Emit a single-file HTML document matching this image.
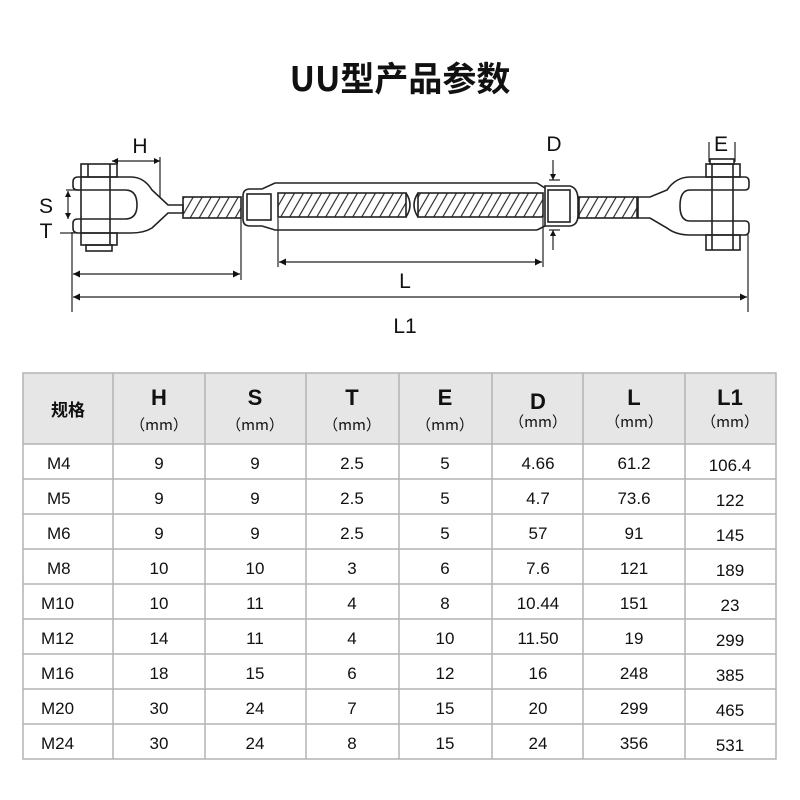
<!DOCTYPE html>
<html><head><meta charset="utf-8"><style>
html,body{margin:0;padding:0;background:#fff;width:800px;height:800px;overflow:hidden}
svg{display:block}
</style></head><body>
<svg width="800" height="800" viewBox="0 0 800 800" xmlns="http://www.w3.org/2000/svg" font-family="Liberation Sans, Noto Sans CJK SC, sans-serif">
<defs>
<pattern id="h" width="9" height="30" patternUnits="userSpaceOnUse" patternTransform="skewX(-30)">
<line x1="1" y1="0" x2="1" y2="30" stroke="#222" stroke-width="1.3"/>
</pattern>
<marker id="a" viewBox="0 0 10 10" refX="10" refY="5" markerWidth="10" markerHeight="6" orient="auto-start-reverse" markerUnits="userSpaceOnUse"><path d="M0,0L10,5L0,10z" fill="#111"/></marker>
<marker id="b" viewBox="0 0 10 10" refX="10" refY="5" markerWidth="16" markerHeight="7" orient="auto-start-reverse" markerUnits="userSpaceOnUse"><path d="M0,0L10,5L0,10z" fill="#111"/></marker>
</defs>
<text x="400" y="91" text-anchor="middle" font-size="34" font-weight="bold" fill="#111" font-family="Noto Sans CJK SC, sans-serif">UU型产品参数</text>

<g fill="none" stroke="#222" stroke-width="1.6">
<path d="M78,177 H131 Q144,177 152,190 L168,205 H183 V213 H168 L152,228 Q144,233 131,233 H78 Q73,233 73,228 V223 Q73,219 78,219 H125 Q137,219 137,205 Q137,190 125,190 H78 Q73,190 73,186 V182 Q73,177 78,177 Z"/>
<rect x="81" y="164" width="36" height="13"/>
<line x1="88" y1="164" x2="88" y2="177"/>
<line x1="81" y1="177" x2="81" y2="233"/>
<line x1="110" y1="164" x2="110" y2="244"/>
<rect x="81" y="233" width="36" height="12"/>
<rect x="86" y="245" width="26" height="6"/>
<rect x="183" y="197" width="58" height="21" fill="url(#h)"/>
<path d="M243,196 Q243,189 250,189 H262 L275,183 H537 L545,188 H545 M537,230 L545,226 M262,226 L275,230 H537"/>
<path d="M243,196 V219 Q243,226 250,226 H262"/>
<rect x="247" y="194" width="24" height="26"/>
<rect x="278" y="193" width="128" height="24" fill="url(#h)"/>
<rect x="418" y="193" width="125" height="24" fill="url(#h)"/>
<path d="M406,193 Q414,205 406,217 M418,193 Q410,205 418,217"/>
<path d="M545,186 H570 Q578,188 578,200 V215 Q578,225 570,226 H545 Z"/>
<rect x="548" y="190" width="22" height="32"/>
<rect x="579" y="197" width="58" height="21" fill="url(#h)"/>
<path d="M745,177 H690 Q676,177 667,190 L650,197 H638 V218 H650 L667,228 Q676,235 690,235 H745 Q749,235 749,230 V225 Q749,221 745,221 H690 Q680,221 680,206 Q680,190 690,190 H745 Q749,190 749,186 V182 Q749,177 745,177 Z"/>
<rect x="706" y="164" width="34" height="13"/>
<rect x="710" y="159" width="24" height="5"/>
<line x1="712" y1="164" x2="712" y2="250"/>
<line x1="733" y1="164" x2="733" y2="250"/>
<rect x="706" y="235" width="34" height="15"/>
</g>

<g stroke="#222" stroke-width="1.2" fill="none">
<line x1="72" y1="232" x2="72" y2="312"/>
<line x1="241" y1="218" x2="241" y2="280"/>
<line x1="278" y1="218" x2="278" y2="267"/>
<line x1="543" y1="218" x2="543" y2="267"/>
<line x1="748" y1="235" x2="748" y2="312"/>
<line x1="160" y1="157" x2="160" y2="197"/>
<line x1="66" y1="190" x2="80" y2="190"/>
<line x1="60" y1="233" x2="75" y2="233"/>
<line x1="549" y1="180" x2="560" y2="180"/>
<line x1="549" y1="230" x2="560" y2="230"/>
<line x1="709" y1="142" x2="709" y2="162"/>
<line x1="735" y1="142" x2="735" y2="162"/>
<line x1="112" y1="161" x2="160" y2="161" marker-start="url(#a)" marker-end="url(#a)"/>
<line x1="68" y1="191" x2="68" y2="219" marker-start="url(#a)" marker-end="url(#a)"/>
<line x1="553" y1="160" x2="553" y2="180" marker-end="url(#a)"/>
<line x1="553" y1="250" x2="553" y2="230" marker-end="url(#a)"/>
<line x1="73" y1="274" x2="240" y2="274" marker-start="url(#b)" marker-end="url(#b)"/>
<line x1="279" y1="262" x2="542" y2="262" marker-start="url(#b)" marker-end="url(#b)"/>
<line x1="73" y1="297" x2="747" y2="297" marker-start="url(#b)" marker-end="url(#b)"/>
</g>
<g font-size="21" fill="#111" text-anchor="middle">
<text x="140" y="153">H</text>
<text x="46" y="213">S</text>
<text x="46" y="238">T</text>
<text x="405" y="288">L</text>
<text x="405" y="333">L1</text>
<text x="554" y="151">D</text>
<text x="721" y="151">E</text>
</g>

<rect x="23" y="373" width="753" height="71" fill="#e6e6e6"/>
<g stroke="#b3b3b3" stroke-width="1.5" fill="none">
<rect x="23" y="373" width="753" height="386"/>
<line x1="113" y1="373" x2="113" y2="759"/><line x1="205" y1="373" x2="205" y2="759"/>
<line x1="306" y1="373" x2="306" y2="759"/><line x1="399" y1="373" x2="399" y2="759"/>
<line x1="492" y1="373" x2="492" y2="759"/><line x1="583" y1="373" x2="583" y2="759"/>
<line x1="685" y1="373" x2="685" y2="759"/>
<line x1="23" y1="444" x2="776" y2="444"/><line x1="23" y1="479" x2="776" y2="479"/>
<line x1="23" y1="514" x2="776" y2="514"/><line x1="23" y1="549" x2="776" y2="549"/>
<line x1="23" y1="584" x2="776" y2="584"/><line x1="23" y1="619" x2="776" y2="619"/>
<line x1="23" y1="654" x2="776" y2="654"/><line x1="23" y1="689" x2="776" y2="689"/>
<line x1="23" y1="724" x2="776" y2="724"/>
</g>
<g fill="#111" text-anchor="middle">
<text x="68" y="416" font-size="17" font-weight="bold" font-family="Noto Sans CJK SC, sans-serif">规格</text>
<g font-size="22" font-weight="bold">
<text x="159" y="405">H</text><text x="255" y="405">S</text><text x="352" y="405">T</text><text x="445" y="405">E</text>
<text x="538" y="409">D</text><text x="634" y="405">L</text><text x="730" y="405">L1</text>
</g>
<g font-size="15" font-family="Noto Sans CJK SC, sans-serif">
<text x="159" y="430">（mm）</text><text x="255" y="430">（mm）</text><text x="352" y="430">（mm）</text><text x="445" y="430">（mm）</text>
<text x="538" y="427">（mm）</text><text x="634" y="427">（mm）</text><text x="730" y="427">（mm）</text>
</g>
<g font-size="17">
<g text-anchor="start">
<text x="47" y="469">M4</text><text x="47" y="504">M5</text><text x="47" y="539">M6</text><text x="47" y="574">M8</text>
<text x="41" y="609">M10</text><text x="41" y="644">M12</text><text x="41" y="679">M16</text><text x="41" y="714">M20</text><text x="41" y="749">M24</text>
</g>
<text x="159" y="469">9</text><text x="255" y="469">9</text><text x="352" y="469">2.5</text><text x="445" y="469">5</text><text x="538" y="469">4.66</text><text x="634" y="469">61.2</text><text x="730" y="471">106.4</text>
<text x="159" y="504">9</text><text x="255" y="504">9</text><text x="352" y="504">2.5</text><text x="445" y="504">5</text><text x="538" y="504">4.7</text><text x="634" y="504">73.6</text><text x="730" y="506">122</text>
<text x="159" y="539">9</text><text x="255" y="539">9</text><text x="352" y="539">2.5</text><text x="445" y="539">5</text><text x="538" y="539">57</text><text x="634" y="539">91</text><text x="730" y="541">145</text>
<text x="159" y="574">10</text><text x="255" y="574">10</text><text x="352" y="574">3</text><text x="445" y="574">6</text><text x="538" y="574">7.6</text><text x="634" y="574">121</text><text x="730" y="576">189</text>
<text x="159" y="609">10</text><text x="255" y="609">11</text><text x="352" y="609">4</text><text x="445" y="609">8</text><text x="538" y="609">10.44</text><text x="634" y="609">151</text><text x="730" y="611">23</text>
<text x="159" y="644">14</text><text x="255" y="644">11</text><text x="352" y="644">4</text><text x="445" y="644">10</text><text x="538" y="644">11.50</text><text x="634" y="644">19</text><text x="730" y="646">299</text>
<text x="159" y="679">18</text><text x="255" y="679">15</text><text x="352" y="679">6</text><text x="445" y="679">12</text><text x="538" y="679">16</text><text x="634" y="679">248</text><text x="730" y="681">385</text>
<text x="159" y="714">30</text><text x="255" y="714">24</text><text x="352" y="714">7</text><text x="445" y="714">15</text><text x="538" y="714">20</text><text x="634" y="714">299</text><text x="730" y="716">465</text>
<text x="159" y="749">30</text><text x="255" y="749">24</text><text x="352" y="749">8</text><text x="445" y="749">15</text><text x="538" y="749">24</text><text x="634" y="749">356</text><text x="730" y="751">531</text>
</g>
</g>
</svg>
</body></html>
